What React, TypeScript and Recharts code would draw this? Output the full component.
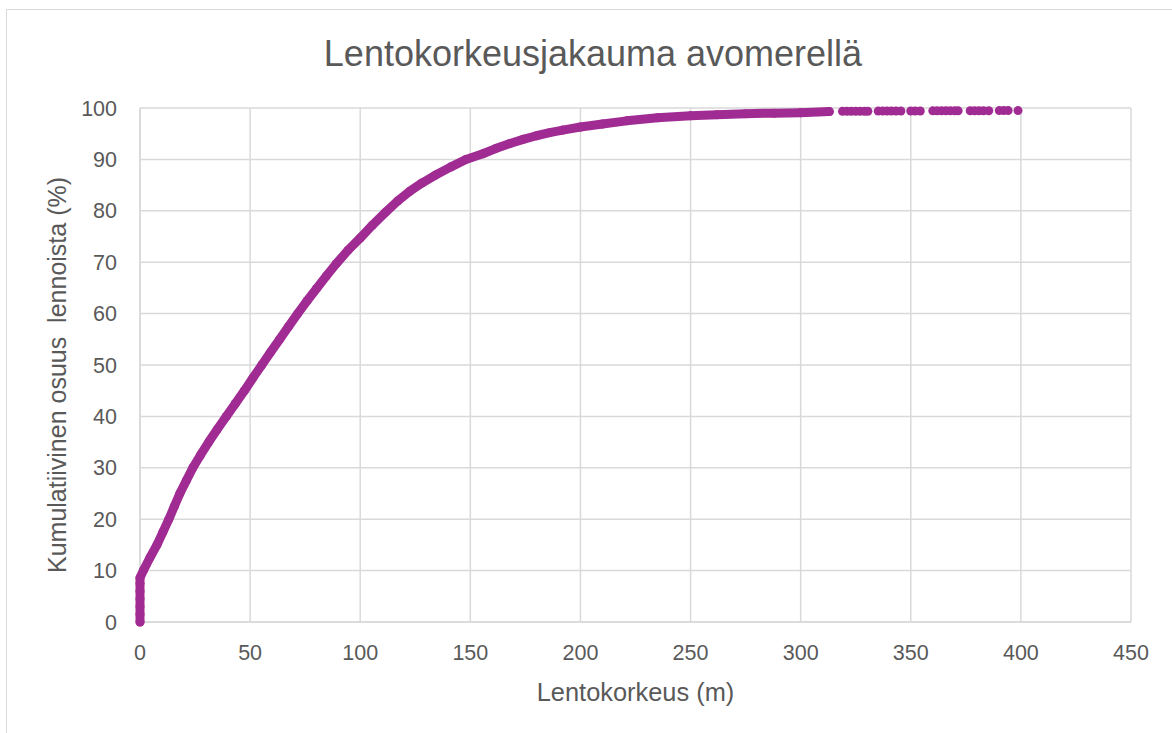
import React from 'react';
import { ScatterChart, Scatter, XAxis, YAxis, ZAxis, CartesianGrid } from 'recharts';

// lentokorkeus (m) ja kumulatiivinen osuus (%) - tiheä osa käyrästä
const heights = [
  0, 0, 0, 0, 0, 0, 0, 1.5, 4.5, 7.7, 10.4, 13.1, 15.6, 18.1, 21, 24, 27.5, 31.2, 35.1,
  39.2, 43.3, 47.4, 51.3, 55.3, 59.3, 63.4, 67.5, 71.6, 75.9, 80.2, 84.6, 89.1, 94.4, 100,
  105.5, 111.5, 117, 122.5, 128, 134, 141, 148, 155.7, 161.5, 168, 174, 180, 186, 192, 200,
  210, 221, 235, 250, 262, 275, 288, 300, 313,
];
const cumulative = [
  0, 1.5, 3, 4.5, 6, 7.5, 8.6, 10, 12.5, 15, 17.5, 20, 22.5, 25, 27.5, 30, 32.5, 35, 37.5,
  40, 42.5, 45, 47.5, 50, 52.5, 55, 57.5, 60, 62.5, 64.9, 67.3, 69.7, 72.3, 74.7,
  77.2, 79.7, 81.9, 83.8, 85.4, 86.9, 88.5, 90, 91.1, 92.1, 93.1, 93.9, 94.6, 95.2, 95.7, 96.3,
  96.9, 97.5, 98.1, 98.5, 98.7, 98.9, 99.0, 99.1, 99.3,
];

// harvat yksittäiset havainnot yläpäässä
const tailHeights = [
  319, 321, 323, 325, 327, 329, 330.5, 335.2, 337.2, 339.2, 341.2, 343.3, 345.5, 350, 352,
  354.3, 360, 362, 364, 366, 368, 370, 371.5, 377, 379, 381, 383, 385.4, 390.2, 392.2, 394.2,
  398.7,
];
const tailCumulative = [
  99.35, 99.35, 99.35, 99.35, 99.38, 99.38, 99.38, 99.4, 99.4, 99.4, 99.4, 99.42, 99.42, 99.42,
  99.42, 99.42, 99.45, 99.45, 99.45, 99.45, 99.45, 99.45, 99.45, 99.47, 99.47, 99.47, 99.47,
  99.47, 99.5, 99.5, 99.5, 99.5,
];

const xTicks = [0, 50, 100, 150, 200, 250, 300, 350, 400, 450];
const yTicks = [0, 10, 20, 30, 40, 50, 60, 70, 80, 90, 100];

const mainData = heights.map((x, i) => ({ x, y: cumulative[i] }));
const tailData = tailHeights.map((x, i) => ({ x, y: tailCumulative[i] }));

const PURPLE = '#A02B93';
const TEXT = '#595959';
const GRID = '#d9d9d9';
const FONT = '"Liberation Sans", Arial, sans-serif';

export default function App() {
  return (
    <div
      style={{
        position: 'absolute',
        left: 0,
        top: 0,
        width: 1172,
        height: 733,
        overflow: 'hidden',
        background: '#fff',
        fontFamily: FONT,
      }}
    >
      <div
        style={{
          position: 'absolute',
          left: 6,
          top: 9,
          width: 1200,
          height: 800,
          border: `1px solid ${GRID}`,
        }}
      />
      <div style={{ position: 'absolute', left: 0, top: 0 }}>
        <ScatterChart
          width={1172}
          height={733}
          margin={{ top: 108, right: 41, bottom: 51, left: 80 }}
        >
          <CartesianGrid stroke={GRID} strokeWidth={1.5} />
          <XAxis
            type="number"
            dataKey="x"
            domain={[0, 450]}
            ticks={xTicks}
            height={60}
            tickSize={0}
            tickMargin={23}
            axisLine={{ stroke: GRID, strokeWidth: 1.5 }}
            tickLine={false}
            tick={{ fill: TEXT, fontSize: 21.5, fontFamily: FONT }}
          />
          <YAxis
            type="number"
            dataKey="y"
            domain={[0, 100]}
            ticks={yTicks}
            width={60}
            tickSize={0}
            tickMargin={23}
            axisLine={{ stroke: GRID, strokeWidth: 1.5 }}
            tickLine={false}
            tick={{ fill: TEXT, fontSize: 21.5, fontFamily: FONT }}
          />
          <ZAxis range={[64, 64]} />
          <Scatter
            data={mainData}
            fill={PURPLE}
            line={{ stroke: PURPLE, strokeWidth: 9, strokeLinejoin: 'round', strokeLinecap: 'round' }}
            lineJointType="linear"
            isAnimationActive={false}
          />
          <Scatter data={tailData} fill={PURPLE} isAnimationActive={false} />
        </ScatterChart>
      </div>
      <svg
        width={1172}
        height={733}
        style={{ position: 'absolute', left: 0, top: 0, pointerEvents: 'none' }}
      >
        <text x={593} y={66} textAnchor="middle" fill={TEXT} fontSize={36} fontFamily={FONT}>
          Lentokorkeusjakauma avomerellä
        </text>
        <text x={635.5} y={700.5} textAnchor="middle" fill={TEXT} fontSize={25.4} fontFamily={FONT}>
          Lentokorkeus (m)
        </text>
        <text
          x={0}
          y={0}
          transform="translate(66 375) rotate(-90)"
          textAnchor="middle"
          fill={TEXT}
          fontSize={25}
          fontFamily={FONT}
          style={{ whiteSpace: 'pre' }}
        >
          {'Kumulatiivinen osuus  lennoista (%)'}
        </text>
      </svg>
    </div>
  );
}
